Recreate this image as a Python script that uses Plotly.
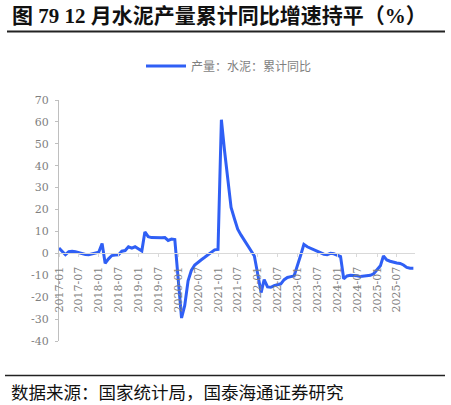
import pandas as pd
import plotly.graph_objects as go

# ---------------- data ----------------
months = pd.date_range("2017-01-01", periods=108, freq="MS").strftime("%Y-%m-%d").tolist()

yoy_2017 = [2.4, None, -0.6, 0.8, 1.0, 0.7, 0.3, -0.2, -0.5, -0.6, -0.3, 0.3]
yoy_2018 = [0.5, 4.5, -4.5, -2.5, -1.0, -0.8, -0.7, 1.0, 1.3, 3.0, 2.4, 3.0]
yoy_2019 = [None, 1.1, 9.8, 7.6, 7.2, 7.1, 7.1, 7.1, 7.2, 5.9, 6.5, 6.3]
yoy_2020 = [None, -29.5, -23.9, -12.5, -7.8, -5.3, -4.0, -2.9, -1.8, -0.6, 0.6, 1.6]
yoy_2021 = [1.8, 61.0, 47.3, 33.0, 21.0, 15.8, 11.0, 8.3, 5.8, 3.3, 1.0, -1.2]
yoy_2022 = [None, -17.9, -12.0, -15.3, -15.5, -14.7, -14.3, -13.9, -12.0, -11.0, -10.6, -10.3]
yoy_2023 = [None, -0.6, 4.1, 3.0, 2.4, 1.8, 1.2, 0.4, -0.4, -0.6, 0.0, -0.2]
yoy_2024 = [None, -1.5, -11.6, -10.3, -10.0, -10.0, -10.2, -10.6, -10.5, -10.3, -10.0, -9.3]
yoy_2025 = [None, -5.7, -1.2, -3.0, -3.6, -4.1, -4.4, -4.6, -5.3, -6.4, -6.8, -6.8]

cement_yoy = (yoy_2017 + yoy_2018 + yoy_2019 + yoy_2020 + yoy_2021
              + yoy_2022 + yoy_2023 + yoy_2024 + yoy_2025)

series_name = "产量：水泥：累计同比"
x_tick_labels = ["2017-01", "2017-07", "2018-01", "2018-07", "2019-01", "2019-07",
                 "2020-01", "2020-07", "2021-01", "2021-07", "2022-01", "2022-07",
                 "2023-01", "2023-07", "2024-01", "2024-07", "2025-01", "2025-07"]
x_tick_vals = [s + "-01" for s in x_tick_labels]
y_tick_vals = [70, 60, 50, 40, 30, 20, 10, 0, -10, -20, -30, -40]
y_tick_labels = ["70", "60", "50", "40", "30", "20", "10", "0", "-10", "-20", "-30", "-40"]

title_text = "图 79 12 月水泥产量累计同比增速持平（%）"
source_text = "数据来源：国家统计局，国泰海通证券研究"

# ---------------- layout geometry ----------------
W, H = 451, 405
L, R, T, B = 59, 36, 100, 64
PW, PH = W - L - R, H - T - B


def px_x(p):
    return (p - L) / PW


def px_y(p):
    return (H - B - p) / PH


fig = go.Figure()
fig.add_trace(go.Scatter(
    x=months, y=cement_yoy, mode="lines", name=series_name,
    connectgaps=True,
    line=dict(color="#2f5ff5", width=3),
))

axis_font = dict(family="DejaVu Serif", size=11, color="#7f7f7f")

fig.update_layout(
    width=W, height=H,
    margin=dict(l=L, r=R, t=T, b=B),
    paper_bgcolor="white", plot_bgcolor="white",
    showlegend=True,
    legend=dict(orientation="h", x=px_x(229), xanchor="center",
                y=px_y(66), yanchor="middle",
                font=dict(family="Noto Sans CJK SC", size=12, color="#7f7f7f"),
                itemwidth=40, bgcolor="rgba(0,0,0,0)"),
    xaxis=dict(type="date", range=["2017-01-01", "2025-12-16"],
               anchor="free", position=40 / 110,
               showline=True, linecolor="#d9d9d9", linewidth=1,
               ticks="outside", ticklen=3, tickcolor="#d9d9d9",
               tickvals=x_tick_vals, ticktext=x_tick_labels,
               tickangle=-90, tickfont=axis_font, ticklabelstandoff=5,
               showgrid=False, zeroline=False),
    yaxis=dict(range=[-40, 70], tickvals=y_tick_vals, ticktext=y_tick_labels,
               showline=True, linecolor="#bfbfbf", linewidth=1,
               ticks="outside", ticklen=3, tickcolor="#bfbfbf",
               tickfont=axis_font, ticklabelstandoff=4,
               showgrid=False, zeroline=False),
)

fig.add_annotation(text=title_text, xref="paper", yref="paper",
                   x=px_x(10), y=px_y(16), xanchor="left", yanchor="middle",
                   showarrow=False,
                   font=dict(family="Liberation Serif, Noto Sans CJK SC", size=21,
                             color="#111111", weight="bold"))
fig.add_annotation(text=source_text, xref="paper", yref="paper",
                   x=px_x(9), y=px_y(391), xanchor="left", yanchor="middle",
                   showarrow=False,
                   font=dict(family="Noto Sans CJK SC", size=17.5, color="#111111"))

fig.add_shape(type="line", xref="paper", yref="paper",
              x0=px_x(7), x1=px_x(445), y0=px_y(31.5), y1=px_y(31.5),
              line=dict(color="#222222", width=2))
fig.add_shape(type="line", xref="paper", yref="paper",
              x0=px_x(5), x1=px_x(445), y0=px_y(375.5), y1=px_y(375.5),
              line=dict(color="#222222", width=1.5))

fig.write_html("out.html")
